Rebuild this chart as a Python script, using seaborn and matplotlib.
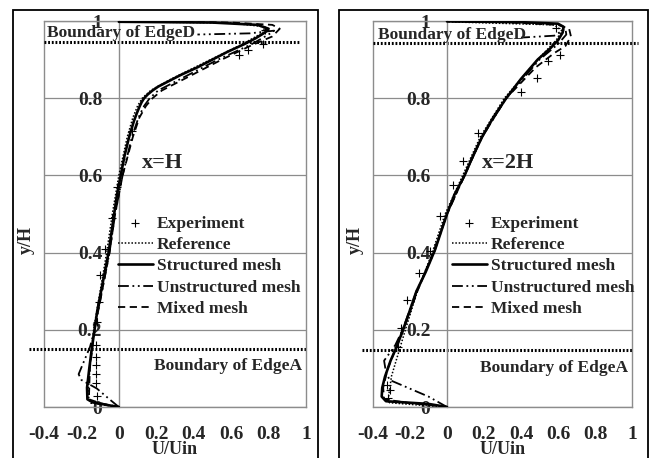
"""
Velocity profiles U/Uin against y/H at x=H and x=2H, two framed panels.
"""

import matplotlib
matplotlib.use("Agg")
import matplotlib.pyplot as plt
from matplotlib.patches import Rectangle
import seaborn as sns

# Tick labels
X_TICKS = [-0.4, -0.2, 0, 0.2, 0.4, 0.6, 0.8, 1]
X_TICK_LABELS = ["-0.4", "-0.2", "0", "0.2", "0.4", "0.6", "0.8", "1"]
Y_TICKS = [0, 0.2, 0.4, 0.6, 0.8, 1]
Y_TICK_LABELS = ["0", "0.2", "0.4", "0.6", "0.8", "1"]

SERIES_NAMES = ["Experiment", "Reference", "Structured mesh",
                "Unstructured mesh", "Mixed mesh"]

# ---- panel 1: x=H ----
H_EXP_X = [-0.118, -0.122, -0.12, -0.12, -0.12, -0.122, -0.118, -0.104, -0.10,
           -0.075, -0.038, -0.01, 0.07, 0.64, 0.69, 0.77, 0.78]
H_EXP_Y = [0.028, 0.061, 0.086, 0.109, 0.13, 0.161, 0.221, 0.273, 0.342,
           0.41, 0.489, 0.571, 0.716, 0.913, 0.926, 0.94, 0.976]

H_REF_Y = [0, 0.01, 0.03, 0.1, 0.2, 0.3, 0.4, 0.5, 0.6, 0.7, 0.75, 0.78, 0.8,
           0.82, 0.85, 0.9, 0.94, 0.97, 0.985, 0.995, 0.998]
H_REF_X = [0, -0.15, -0.165, -0.155, -0.135, -0.10, -0.065, -0.035, 0.0, 0.045,
           0.075, 0.10, 0.125, 0.17, 0.28, 0.49, 0.66, 0.77, 0.78, 0.6, 0.0]

H_STR_Y = [0, 0.005, 0.012, 0.02, 0.05, 0.1, 0.15, 0.2, 0.25, 0.3, 0.35, 0.4,
           0.45, 0.5, 0.55, 0.6, 0.65, 0.7, 0.74, 0.76, 0.78, 0.79, 0.8, 0.81,
           0.82, 0.83, 0.84, 0.86, 0.88, 0.9, 0.92, 0.94, 0.955, 0.97, 0.98,
           0.99, 0.996, 0.998]
H_STR_X = [0, -0.06, -0.14, -0.168, -0.17, -0.158, -0.145, -0.13, -0.115,
           -0.095, -0.075, -0.055, -0.04, -0.025, -0.01, 0.01, 0.03, 0.055,
           0.08, 0.095, 0.112, 0.122, 0.135, 0.155, 0.18, 0.21, 0.25, 0.33,
           0.42, 0.50, 0.58, 0.67, 0.73, 0.78, 0.80, 0.74, 0.5, 0.0]

H_UNS_Y = [0, 0.02, 0.048, 0.07, 0.085, 0.12, 0.156, 0.2, 0.3, 0.4, 0.5, 0.6,
           0.7, 0.75, 0.78, 0.8, 0.82, 0.85, 0.9, 0.94, 0.965, 0.975, 0.968,
           0.965]
H_UNS_X = [0, -0.05, -0.118, -0.2, -0.215, -0.185, -0.154, -0.13, -0.09, -0.05,
           -0.02, 0.02, 0.07, 0.105, 0.135, 0.165, 0.21, 0.33, 0.53, 0.71, 0.80,
           0.83, 0.7, 0.42]

H_MIX_Y = [0, 0.01, 0.02, 0.1, 0.2, 0.3, 0.4, 0.5, 0.6, 0.7, 0.75, 0.78, 0.8,
           0.82, 0.85, 0.9, 0.935, 0.96, 0.98, 0.99, 0.996, 0.999]
H_MIX_X = [0, -0.1, -0.16, -0.155, -0.13, -0.09, -0.05, -0.02, 0.02, 0.075,
           0.11, 0.145, 0.18, 0.23, 0.35, 0.55, 0.70, 0.82, 0.86, 0.82, 0.6, 0.0]

# ---- panel 2: x=2H ----
H2_EXP_X = [-0.317, -0.326, -0.308, -0.263, -0.249, -0.218, -0.15, -0.09,
            -0.038, 0.031, 0.085, 0.169, 0.40, 0.488, 0.548, 0.611, 0.589]
H2_EXP_Y = [0.023, 0.057, 0.044, 0.156, 0.205, 0.278, 0.347, 0.405, 0.494,
            0.576, 0.638, 0.71, 0.815, 0.853, 0.896, 0.913, 0.982]

H2_REF_Y = [0, 0.005, 0.011, 0.03, 0.08, 0.16, 0.2, 0.3, 0.4, 0.5, 0.6, 0.7,
            0.8, 0.9, 0.95, 0.975, 0.99, 0.998]
H2_REF_X = [0, -0.15, -0.31, -0.315, -0.30, -0.25, -0.225, -0.16, -0.08, -0.01,
            0.085, 0.18, 0.31, 0.49, 0.59, 0.62, 0.58, 0.0]

H2_STR_Y = [0, 0.008, 0.015, 0.027, 0.05, 0.079, 0.12, 0.156, 0.2, 0.226, 0.3,
            0.35, 0.407, 0.45, 0.5, 0.55, 0.6, 0.65, 0.7, 0.75, 0.8, 0.85, 0.9,
            0.93, 0.95, 0.97, 0.985, 0.993, 0.997, 0.999]
H2_STR_X = [0, -0.1, -0.33, -0.353, -0.35, -0.335, -0.305, -0.272, -0.238,
            -0.218, -0.165, -0.115, -0.065, -0.035, 0.0, 0.04, 0.095, 0.14, 0.19,
            0.25, 0.32, 0.40, 0.49, 0.56, 0.60, 0.625, 0.63, 0.6, 0.4, 0.0]

H2_UNS_Y = [0, 0.027, 0.07, 0.09, 0.12, 0.16, 0.2, 0.3, 0.4, 0.5, 0.6, 0.7, 0.8,
            0.9, 0.94, 0.965, 0.98, 0.962, 0.957]
H2_UNS_X = [0, -0.10, -0.31, -0.33, -0.34, -0.28, -0.24, -0.165, -0.07, 0.0,
            0.095, 0.19, 0.32, 0.50, 0.6, 0.645, 0.64, 0.58, 0.40]

H2_MIX_Y = [0, 0.01, 0.02, 0.05, 0.1, 0.16, 0.2, 0.3, 0.4, 0.5, 0.6, 0.7, 0.8,
            0.88, 0.917, 0.935, 0.96, 0.98, 0.99, 0.997, 0.999]
H2_MIX_X = [0, -0.2, -0.34, -0.345, -0.32, -0.27, -0.235, -0.16, -0.075, 0.0,
            0.095, 0.19, 0.32, 0.48, 0.58, 0.64, 0.67, 0.66, 0.6, 0.3, 0.0]

# boundary line heights
H_EDGE_D, H_EDGE_A = 0.946, 0.150
H2_EDGE_D, H2_EDGE_A = 0.944, 0.148

GRID_GRAY = "#8c8c8c"
FONT = ["Liberation Serif", "DejaVu Serif"]

STYLES = {
    "Reference": dict(linestyle=(0, (1, 1.2)), linewidth=1.1),
    "Structured mesh": dict(linestyle="-", linewidth=1.9),
    "Unstructured mesh": dict(linestyle=(0, (6, 2, 1, 2, 1, 2)), linewidth=1.3),
    "Mixed mesh": dict(linestyle=(0, (4, 2.5)), linewidth=1.3),
}


def draw_panel(ax, exp, curves, edge_d, edge_a, tag, legend_x, text_pos):
    ax.set_xlim(-0.4, 1.0)
    ax.set_ylim(0, 1.0)

    sns.scatterplot(x=exp[0], y=exp[1], marker="+", color="black", s=38,
                    linewidth=0.8, label=SERIES_NAMES[0], ax=ax, zorder=4)
    for name, (xs, ys) in zip(SERIES_NAMES[1:], curves):
        sns.lineplot(x=xs, y=ys, sort=False, estimator=None, color="black",
                     label=name, ax=ax, zorder=3, **STYLES[name])

    # Excel-like frame: y axis crosses at x = 0
    ax.spines["left"].set_position(("data", 0))
    for side in ["left", "right", "top", "bottom"]:
        ax.spines[side].set_color(GRID_GRAY)
        ax.spines[side].set_linewidth(1.0)
    ax.axvline(-0.4, color=GRID_GRAY, lw=1.0, clip_on=False, zorder=1)
    ax.grid(axis="y", color=GRID_GRAY, lw=0.9)
    ax.grid(axis="x", visible=False)

    ax.set_xticks(X_TICKS)
    ax.set_xticklabels(X_TICK_LABELS)
    ax.set_yticks(Y_TICKS)
    ax.set_yticklabels(Y_TICK_LABELS)
    ax.tick_params(axis="both", length=0, labelsize=14)
    ax.tick_params(axis="x", pad=14)
    ax.tick_params(axis="y", pad=12)
    for lab in ax.get_xticklabels() + ax.get_yticklabels():
        lab.set_fontweight("bold")

    ax.set_xlabel("U/Uin", fontsize=13, fontweight="bold", labelpad=-2)
    ax.set_ylabel("y/H", fontsize=13, fontweight="bold")
    ax.yaxis.set_label_coords(text_pos["ylab"], 0.433)

    # boundary lines
    ax.plot(text_pos["d_span"], [edge_d, edge_d], color="black", lw=2.2,
            linestyle=(0, (0.6, 0.6)), clip_on=False, zorder=2)
    ax.plot(text_pos["a_span"], [edge_a, edge_a], color="black", lw=2.2,
            linestyle=(0, (0.6, 0.6)), clip_on=False, zorder=2)

    ax.text(text_pos["d"][0], text_pos["d"][1], "Boundary of EdgeD",
            fontsize=12.5, fontweight="bold", va="center", ha="left", zorder=5)
    ax.text(text_pos["a"][0], text_pos["a"][1], "Boundary of EdgeA",
            fontsize=12.5, fontweight="bold", va="center", ha="right", zorder=5)
    ax.text(text_pos["tag"][0], text_pos["tag"][1], tag, fontsize=16,
            fontweight="bold", va="center", ha="left", zorder=5)

    handles, labels = ax.get_legend_handles_labels()
    leg = ax.legend(handles, labels, loc="upper left",
                    bbox_to_anchor=(legend_x, 0.496), frameon=False,
                    borderpad=0, borderaxespad=0, handlelength=2.0,
                    handletextpad=0.25, labelspacing=0.30,
                    prop={"size": 12.5, "weight": "bold"})
    return leg


sns.set_theme(style="white")
plt.rcParams["font.family"] = FONT
plt.rcParams["axes.unicode_minus"] = False

fig = plt.figure(figsize=(6.51, 4.58), dpi=100)
ax1 = fig.add_axes([44 / 651, 51 / 458, 262 / 651, 386 / 458])
ax2 = fig.add_axes([373 / 651, 51 / 458, 259 / 651, 386 / 458])

draw_panel(
    ax1, (H_EXP_X, H_EXP_Y),
    [(H_REF_X, H_REF_Y), (H_STR_X, H_STR_Y), (H_UNS_X, H_UNS_Y), (H_MIX_X, H_MIX_Y)],
    H_EDGE_D, H_EDGE_A, "x=H", 0.282,
    {"ylab": -0.034, "d_span": [-0.4, 0.97], "a_span": [-0.48, 1.0],
     "d": (-0.385, 0.968), "a": (0.98, 0.107), "tag": (0.124, 0.632)},
)
draw_panel(
    ax2, (H2_EXP_X, H2_EXP_Y),
    [(H2_REF_X, H2_REF_Y), (H2_STR_X, H2_STR_Y), (H2_UNS_X, H2_UNS_Y), (H2_MIX_X, H2_MIX_Y)],
    H2_EDGE_D, H2_EDGE_A, "x=2H", 0.305,
    {"ylab": -0.035, "d_span": [-0.4, 1.032], "a_span": [-0.46, 1.0],
     "d": (-0.373, 0.963), "a": (0.978, 0.102), "tag": (0.189, 0.632)},
)

# outer panel frames
for left, right in [(13, 318), (339, 648)]:
    fig.patches.append(Rectangle((left / 651, -0.05), (right - left) / 651,
                                 1.05 - 10 / 458, transform=fig.transFigure,
                                 fill=False, edgecolor="black", lw=1.3))

fig.savefig("out.png", dpi=100)
plt.close(fig)
